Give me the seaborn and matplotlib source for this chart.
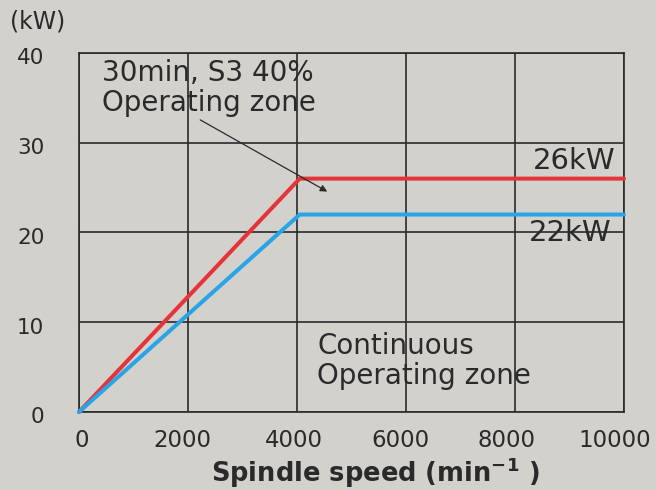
import matplotlib
matplotlib.use("Agg")
import matplotlib.pyplot as plt
import matplotlib.transforms as mtransforms
import seaborn as sns
import pandas as pd

# Spindle output characteristics
speed = [0, 4050, 10000]          # min^-1
s3_power = [0, 26, 26]            # kW, 30min / S3 40%
cont_power = [0, 22, 22]          # kW, continuous
x_ticks = [0, 2000, 4000, 6000, 8000, 10000]
y_ticks = [0, 10, 20, 30, 40]

df = pd.DataFrame({
    "speed": speed * 2,
    "power": s3_power + cont_power,
    "rating": ["S3"] * len(speed) + ["Continuous"] * len(speed),
})

sns.set_theme(style="white")
plt.rcParams["font.family"] = ["DejaVu Sans"]

bg = "#d3d1cc"
ink = "#2a2a2a"
fig = plt.figure(figsize=(6.56, 4.90), dpi=100, facecolor=bg)
ax = fig.add_axes([0.1204, 0.1592, 0.8308, 0.7327])
ax.set_facecolor(bg)

sns.lineplot(data=df, x="speed", y="power", hue="rating",
             palette={"S3": "#e5333a", "Continuous": "#29a4e6"},
             linewidth=2.9, legend=False, ax=ax, zorder=3, clip_on=False)

ax.set_xlim(0, 10000)
ax.set_ylim(0, 40)
ax.set_xticks(x_ticks)
ax.set_yticks(y_ticks)
ax.set_xticklabels([str(t) for t in x_ticks])
ax.set_yticklabels([str(t) for t in y_ticks])
ax.grid(True, color=ink, linewidth=1.2)
ax.set_axisbelow(True)
for s in ax.spines.values():
    s.set_color(ink)
    s.set_linewidth(1.2)
ax.tick_params(axis="x", length=0, labelsize=16.5, labelcolor=ink, pad=12)
ax.tick_params(axis="y", length=0, labelsize=15.5, labelcolor=ink, pad=25)

# nudge tick labels: x labels sit a little left of the grid lines,
# y labels a little below them
x_shift = [3, -6, -3, -6, -8, -9]
for lbl, dx in zip(ax.get_xticklabels(), x_shift):
    lbl.set_transform(lbl.get_transform() +
                      mtransforms.ScaledTranslation(dx / 100, 0, fig.dpi_scale_trans))
for lbl in ax.get_yticklabels():
    lbl.set_transform(lbl.get_transform() +
                      mtransforms.ScaledTranslation(0, -3.5 / 100, fig.dpi_scale_trans))

ax.set_xlabel("Spindle speed (min$^{\\mathregular{-1}}$ )", fontsize=18.5,
              fontweight="bold", color=ink)
ax.xaxis.label.set_va("baseline")
ax.xaxis.set_label_coords(0.544, -0.195)
ax.set_ylabel("")
fig.text(0.015, 0.957, "(kW)", fontsize=17, color=ink, va="center")

ax.text(430, 39.3, "30min, S3 40%\nOperating zone", fontsize=20, color=ink,
        va="top", ha="left", linespacing=1.08)
ax.annotate("", xy=(4600, 24.4), xytext=(2180, 32.7),
            arrowprops=dict(arrowstyle="-|>", color=ink, lw=0.9,
                            mutation_scale=10))
ax.text(9850, 27.1, "26kW", fontsize=21, color=ink, ha="right", va="baseline")
ax.text(9780, 19.1, "22kW", fontsize=21, color=ink, ha="right", va="baseline")
ax.text(4370, 8.9, "Continuous\nOperating zone", fontsize=20, color=ink,
        va="top", ha="left", linespacing=1.08)

fig.savefig("out.png", dpi=100, facecolor=bg)
